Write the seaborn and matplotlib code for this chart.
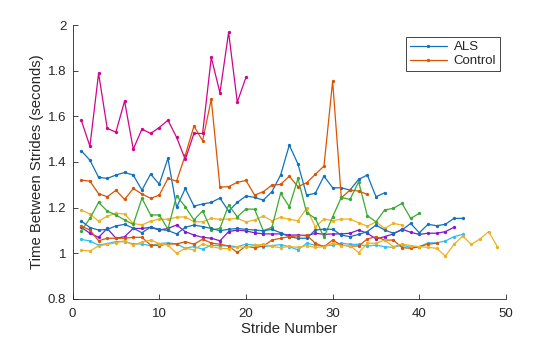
import numpy as np
import pandas as pd
import matplotlib
matplotlib.use("Agg")
import matplotlib.pyplot as plt
import seaborn as sns

# ---------------- data ----------------
als_top = [1.449, 1.408, 1.333, 1.328, 1.343, 1.354, 1.343, 1.277, 1.347, 1.303,
           1.416, 1.201, 1.284, 1.207, 1.216, 1.223, 1.242, 1.185, 1.223, 1.251,
           1.245, 1.233, 1.270, 1.343, 1.474, 1.391, 1.255, 1.263, 1.338, 1.287,
           1.287, 1.277, 1.324, 1.343, 1.248, 1.265]
control_top = [1.321, 1.316, 1.261, 1.248, 1.276, 1.236, 1.284, 1.260, 1.241, 1.255,
               1.328, 1.316, 1.430, 1.557, 1.493, 1.675, 1.290, 1.292, 1.311, 1.319,
               1.255, 1.270, 1.299, 1.302, 1.338, 1.292, 1.309, 1.346, 1.382, 1.754,
               1.243, 1.277, 1.273, 1.258]
yellow_top = [1.190, 1.172, 1.141, 1.163, 1.175, 1.172, 1.131, 1.124, 1.141, 1.150,
              1.149, 1.158, 1.160, 1.138, 1.138, 1.153, 1.149, 1.150, 1.153, 1.138,
              1.146, 1.163, 1.143, 1.158, 1.149, 1.143, 1.197, 1.116, 1.150, 1.143,
              1.150, 1.150, 1.134, 1.119, 1.138, 1.109, 1.131, 1.124]
purple = [1.114, 1.088, 1.070, 1.109, 1.066, 1.073, 1.109, 1.109, 1.114, 1.102,
          1.109, 1.124, 1.095, 1.080, 1.070, 1.066, 1.055, 1.095, 1.102, 1.098,
          1.090, 1.085, 1.085, 1.085, 1.080, 1.080, 1.077, 1.088, 1.083, 1.085,
          1.085, 1.088, 1.102, 1.088, 1.063, 1.073, 1.085, 1.106, 1.092, 1.083,
          1.088, 1.088, 1.095, 1.114]
green = [1.099, 1.153, 1.223, 1.185, 1.168, 1.146, 1.127, 1.241, 1.168, 1.168,
         1.106, 1.252, 1.204, 1.146, 1.186, 1.102, 1.109, 1.211, 1.160, 1.194,
         1.193, 1.099, 1.114, 1.263, 1.204, 1.328, 1.178, 1.153, 1.070, 1.160,
         1.245, 1.236, 1.313, 1.165, 1.138, 1.190, 1.197, 1.219, 1.153, 1.175]
cyan = [1.061, 1.054, 1.036, 1.043, 1.051, 1.051, 1.041, 1.041, 1.033, 1.043,
        1.046, 1.041, 1.022, 1.030, 1.018, 1.036, 1.033, 1.033, 1.029, 1.040,
        1.036, 1.029, 1.034, 1.038, 1.029, 1.015, 1.044, 1.036, 1.032, 1.036,
        1.044, 1.040, 1.039, 1.032, 1.036, 1.029, 1.026, 1.036, 1.026, 1.029,
        1.046, 1.046, 1.054, 1.073, 1.083]
magenta = [1.583, 1.469, 1.788, 1.547, 1.531, 1.667, 1.456, 1.544, 1.525, 1.551,
           1.583, 1.508, 1.411, 1.525, 1.525, 1.858, 1.703, 1.968, 1.662, 1.771]
als_low = [1.141, 1.113, 1.102, 1.105, 1.120, 1.127, 1.110, 1.090, 1.115, 1.105,
           1.100, 1.085, 1.114, 1.124, 1.117, 1.109, 1.099, 1.105, 1.109, 1.105,
           1.102, 1.099, 1.105, 1.090, 1.073, 1.066, 1.066, 1.102, 1.106, 1.105,
           1.080, 1.073, 1.083, 1.095, 1.124, 1.102, 1.088, 1.102, 1.131, 1.090,
           1.127, 1.121, 1.127, 1.153, 1.153]
control_low = [1.120, 1.102, 1.055, 1.066, 1.066, 1.066, 1.070, 1.070, 1.036, 1.034,
               1.041, 1.041, 1.051, 1.040, 1.062, 1.045, 1.040, 1.032, 1.004, 1.032,
               1.024, 1.032, 1.058, 1.066, 1.073, 1.077, 1.080, 1.044, 1.029, 1.058,
               1.036, 1.032, 1.032, 1.063, 1.073, 1.058, 1.058, 1.025, 1.022, 1.029,
               1.040, 1.044]
yellow_low = [1.014, 1.010, 1.033, 1.039, 1.046, 1.055, 1.036, 1.049, 1.058, 1.043,
              1.036, 1.000, 1.022, 1.015, 1.041, 1.030, 1.022, 1.020, 1.029, 1.026,
              1.035, 1.040, 1.030, 1.025, 1.030, 1.026, 1.034, 1.026, 1.029, 1.044,
              1.034, 1.034, 1.003, 1.044, 1.044, 1.058, 1.029, 1.041, 1.034, 1.029,
              1.026, 1.022, 0.988, 1.039, 1.076, 1.039, 1.063, 1.095, 1.029]

legend_labels = ["ALS", "Control"]
x_ticks = [0, 10, 20, 30, 40, 50]
y_ticks = [0.8, 1.0, 1.2, 1.4, 1.6, 1.8, 2.0]
y_tick_labels = ["0.8", "1", "1.2", "1.4", "1.6", "1.8", "2"]

C_BLUE = (0.066, 0.443, 0.745)
C_ORANGE = (0.866, 0.329, 0.0)
C_YELLOW = (0.929, 0.694, 0.125)
C_PURPLE = (0.521, 0.086, 0.819)
C_GREEN = (0.231, 0.666, 0.196)
C_CYAN = (0.184, 0.745, 0.937)
C_MAGENTA = (0.819, 0.015, 0.545)

series = [
    ("ALS", als_top, C_BLUE),
    ("Control", control_top, C_ORANGE),
    (None, yellow_top, C_YELLOW),
    (None, purple, C_PURPLE),
    (None, green, C_GREEN),
    (None, cyan, C_CYAN),
    (None, magenta, C_MAGENTA),
    (None, als_low, C_BLUE),
    (None, control_low, C_ORANGE),
    (None, yellow_low, C_YELLOW),
]

# ---------------- style ----------------
sns.set_theme(style="ticks")
plt.rcParams["font.family"] = ["Liberation Sans", "DejaVu Sans"]
plt.rcParams["xtick.direction"] = "in"
plt.rcParams["ytick.direction"] = "in"

fig = plt.figure(figsize=(5.6, 3.37), dpi=100)
ax = fig.add_axes([0.1296, 0.1128, 0.9036 - 0.1296, 0.9258 - 0.1128])

handles = {}
for label, vals, col in series:
    df = pd.DataFrame({"stride": np.arange(1, len(vals) + 1), "t": vals})
    sns.lineplot(data=df, x="stride", y="t", ax=ax, color=col, linewidth=0.9,
                 marker="o", markersize=2.4, markeredgewidth=0, legend=False)
    line = ax.get_lines()[-1]
    if label is not None and label not in handles:
        handles[label] = line

ax.set_xlim(0, 50)
ax.set_ylim(0.8, 2.0)
ax.set_xticks(x_ticks)
ax.set_yticks(y_ticks)
ax.set_yticklabels(y_tick_labels)
ax.tick_params(axis="both", labelsize=9.5, length=3.5, width=0.6, colors="#262626",
               labelcolor="#262626")
ax.tick_params(axis="x", pad=6.5)
ax.tick_params(axis="y", pad=4.5)
for s in ["top", "right"]:
    ax.spines[s].set_visible(False)
for s in ["left", "bottom"]:
    ax.spines[s].set_linewidth(0.6)
    ax.spines[s].set_color("#262626")

ax.set_xlabel("Stride Number", fontsize=10.7, color="#262626", labelpad=1.5)
ax.set_ylabel("Time Between Strides (seconds)", fontsize=10.7, color="#262626", labelpad=2.5)

leg = ax.legend([handles[l] for l in legend_labels], legend_labels,
                loc="upper right", bbox_to_anchor=(0.986, 0.956),
                fontsize=9.5, frameon=True, fancybox=False, handlelength=2.8,
                handletextpad=0.5, borderpad=0.3, labelspacing=0.15,
                borderaxespad=0.0)
leg.get_frame().set_edgecolor("#262626")
leg.get_frame().set_linewidth(0.6)
leg.get_frame().set_facecolor("white")
leg.get_frame().set_alpha(1.0)

fig.savefig("out.png", dpi=100)
